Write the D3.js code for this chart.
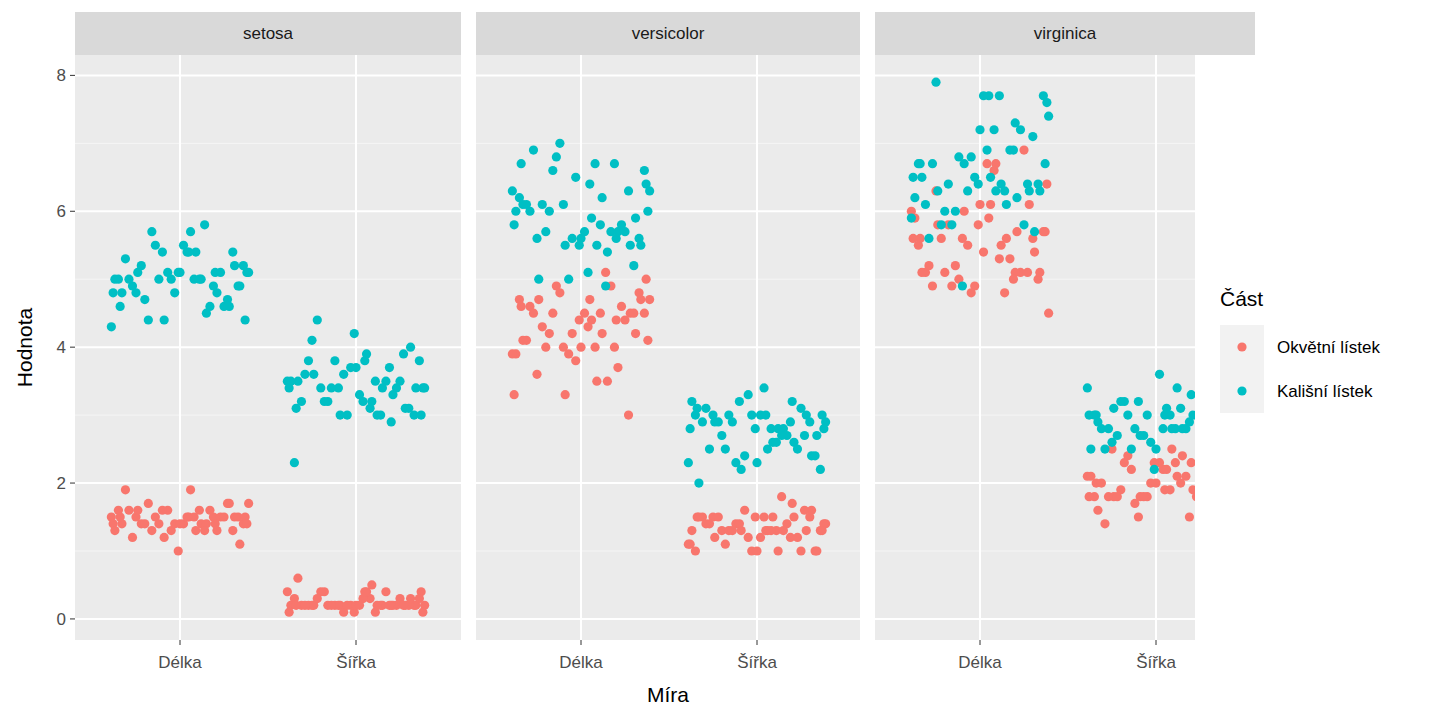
<!DOCTYPE html>
<html><head><meta charset="utf-8">
<script src="https://cdn.jsdelivr.net/npm/d3@7"></script>
<style>body{margin:0;background:#fff;font-family:Arial,"Liberation Sans",sans-serif}</style>
</head><body><div id="chart"></div>
<script>
const SPECIES = ["setosa", "versicolor", "virginica"];
const MEASURES = ["Délka", "Šířka"];
const PARTS = ["Okvětní lístek", "Kališní lístek"];
const COLORS = ["#F8766D", "#00BFC4"];
const Y_TICKS = [0, 2, 4, 6, 8];

// iris values per species: sepal length, sepal width, petal length, petal width
const sepalLength = {
  setosa: [5.1,4.9,4.7,4.6,5.0,5.4,4.6,5.0,4.4,4.9,5.4,4.8,4.8,4.3,5.8,5.7,5.4,5.1,5.7,5.1,5.4,5.1,4.6,5.1,4.8,5.0,5.0,5.2,5.2,4.7,4.8,5.4,5.2,5.5,4.9,5.0,5.5,4.9,4.4,5.1,5.0,4.5,4.4,5.0,5.1,4.8,5.1,4.6,5.3,5.0],
  versicolor: [7.0,6.4,6.9,5.5,6.5,5.7,6.3,4.9,6.6,5.2,5.0,5.9,6.0,6.1,5.6,6.7,5.6,5.8,6.2,5.6,5.9,6.1,6.3,6.1,6.4,6.6,6.8,6.7,6.0,5.7,5.5,5.5,5.8,6.0,5.4,6.0,6.7,6.3,5.6,5.5,5.5,6.1,5.8,5.0,5.6,5.7,5.7,6.2,5.1,5.7],
  virginica: [6.3,5.8,7.1,6.3,6.5,7.6,4.9,7.3,6.7,7.2,6.5,6.4,6.8,5.7,5.8,6.4,6.5,7.7,7.7,6.0,6.9,5.6,7.7,6.3,6.7,7.2,6.2,6.1,6.4,7.2,7.4,7.9,6.4,6.3,6.1,7.7,6.3,6.4,6.0,6.9,6.7,6.9,5.8,6.8,6.7,6.7,6.3,6.5,6.2,5.9]
};
const sepalWidth = {
  setosa: [3.5,3.0,3.2,3.1,3.6,3.9,3.4,3.4,2.9,3.1,3.7,3.4,3.0,3.0,4.0,4.4,3.9,3.5,3.8,3.8,3.4,3.7,3.6,3.3,3.4,3.0,3.4,3.5,3.4,3.2,3.1,3.4,4.1,4.2,3.1,3.2,3.5,3.6,3.0,3.4,3.5,2.3,3.2,3.5,3.8,3.0,3.8,3.2,3.7,3.3],
  versicolor: [3.2,3.2,3.1,2.3,2.8,2.8,3.3,2.4,2.9,2.7,2.0,3.0,2.2,2.9,2.9,3.1,3.0,2.7,2.2,2.5,3.2,2.8,2.5,2.8,2.9,3.0,2.8,3.0,2.9,2.6,2.4,2.4,2.7,2.7,3.0,3.4,3.1,2.3,3.0,2.5,2.6,3.0,2.6,2.3,2.7,3.0,2.9,2.9,2.5,2.8],
  virginica: [3.3,2.7,3.0,2.9,3.0,3.0,2.5,2.9,2.5,3.6,3.2,2.7,3.0,2.5,2.8,3.2,3.0,3.8,2.6,2.2,3.2,2.8,2.8,2.7,3.3,3.2,2.8,3.0,2.8,3.0,2.8,3.8,2.8,2.8,2.6,3.0,3.4,3.1,3.0,3.1,3.1,3.1,2.7,3.2,3.3,3.0,2.5,3.0,3.4,3.0]
};
const petalLength = {
  setosa: [1.4,1.4,1.3,1.5,1.4,1.7,1.4,1.5,1.4,1.5,1.5,1.6,1.4,1.1,1.2,1.5,1.3,1.4,1.7,1.5,1.7,1.5,1.0,1.7,1.9,1.6,1.6,1.5,1.4,1.6,1.6,1.5,1.5,1.4,1.5,1.2,1.3,1.4,1.3,1.5,1.3,1.3,1.3,1.6,1.9,1.4,1.6,1.4,1.5,1.4],
  versicolor: [4.7,4.5,4.9,4.0,4.6,4.5,4.7,3.3,4.6,3.9,3.5,4.2,4.0,4.7,3.6,4.4,4.5,4.1,4.5,3.9,4.8,4.0,4.9,4.7,4.3,4.4,4.8,5.0,4.5,3.5,3.8,3.7,3.9,5.1,4.5,4.5,4.7,4.4,4.1,4.0,4.4,4.6,4.0,3.3,4.2,4.2,4.2,4.3,3.0,4.1],
  virginica: [6.0,5.1,5.9,5.6,5.8,6.6,4.5,6.3,5.8,6.1,5.1,5.3,5.5,5.0,5.1,5.3,5.5,6.7,6.9,5.0,5.7,4.9,6.7,4.9,5.7,6.0,4.8,4.9,5.6,5.8,6.1,6.4,5.6,5.1,5.6,6.1,5.6,5.5,4.8,5.4,5.6,5.1,5.1,5.9,5.7,5.2,5.0,5.2,5.4,5.1]
};
const petalWidth = {
  setosa: [0.2,0.2,0.2,0.2,0.2,0.4,0.3,0.2,0.2,0.1,0.2,0.2,0.1,0.1,0.2,0.4,0.4,0.3,0.3,0.3,0.2,0.4,0.2,0.5,0.2,0.2,0.4,0.2,0.2,0.2,0.2,0.4,0.1,0.2,0.2,0.2,0.2,0.1,0.2,0.2,0.3,0.3,0.2,0.6,0.4,0.3,0.2,0.2,0.2,0.2],
  versicolor: [1.4,1.5,1.5,1.3,1.5,1.3,1.6,1.0,1.3,1.4,1.0,1.5,1.0,1.4,1.3,1.4,1.5,1.0,1.5,1.1,1.8,1.3,1.5,1.2,1.3,1.4,1.4,1.7,1.5,1.0,1.1,1.0,1.2,1.6,1.5,1.6,1.5,1.3,1.3,1.3,1.2,1.4,1.2,1.0,1.3,1.2,1.3,1.3,1.1,1.3],
  virginica: [2.5,1.9,2.1,1.8,2.2,2.1,1.7,1.8,1.8,2.5,2.0,1.9,2.1,2.0,2.4,2.3,1.8,2.2,2.3,1.5,2.3,2.0,2.0,1.8,2.1,1.8,1.8,1.8,2.1,1.6,1.9,2.0,2.2,1.5,1.4,2.3,2.4,1.8,1.8,2.1,2.4,2.3,1.9,2.3,2.5,2.3,1.9,2.0,2.3,1.8]
};

// horizontal jitter offsets (fraction of category spacing), hand-picked
const JITTER = [-0.38,0.12,-0.05,0.31,-0.22,0.27,-0.33,0.05,0.36,-0.14,0.19,-0.29,0.02,0.34,-0.09,0.23,-0.37,0.15,-0.18,0.08,0.39,-0.25,-0.01,0.28,-0.31,0.11,-0.07,0.33,-0.2,0.17,-0.35,0.04,0.25,-0.12,0.37,-0.27,0.09,-0.03,0.21,-0.39,0.14,-0.16,0.3,-0.24,0.06,0.38,-0.1,0.2,-0.34,0.0];

const width = 1440, height = 720;
const panelLeft = [75, 476, 875];
const panelW = [386, 384, 320];
const stripW = [386, 384, 380];
const plotTop = 55, plotBottom = 640;

const svg = d3.select("#chart").append("svg").attr("width", width).attr("height", height);

const y = d3.scaleLinear().domain([-0.31, 8.3]).range([plotBottom, plotTop]);

SPECIES.forEach((sp, i) => {
  const x0 = panelLeft[i];
  const x = d3.scalePoint().domain(MEASURES).range([x0 + 105, x0 + 281]);
  const step = 176;

  // strip
  svg.append("rect").attr("x", x0).attr("y", 12).attr("width", stripW[i]).attr("height", 43).attr("fill", "#D9D9D9");
  svg.append("text").attr("x", x0 + stripW[i] / 2).attr("y", 39).attr("text-anchor", "middle")
    .attr("font-size", 17).attr("fill", "#1A1A1A").text(sp);

  const g = svg.append("g");
  g.append("clipPath").attr("id", "clip" + i).append("rect")
    .attr("x", x0).attr("y", plotTop).attr("width", panelW[i]).attr("height", plotBottom - plotTop);
  g.append("rect").attr("x", x0).attr("y", plotTop).attr("width", panelW[i]).attr("height", plotBottom - plotTop).attr("fill", "#EBEBEB");

  const minor = [1, 3, 5, 7];
  minor.forEach(v => g.append("line").attr("x1", x0).attr("x2", x0 + panelW[i]).attr("y1", y(v)).attr("y2", y(v)).attr("stroke", "#F5F5F5").attr("stroke-width", 1));
  Y_TICKS.forEach(v => g.append("line").attr("x1", x0).attr("x2", x0 + panelW[i]).attr("y1", y(v)).attr("y2", y(v)).attr("stroke", "#fff").attr("stroke-width", 2));
  MEASURES.forEach(m => {
    g.append("line").attr("x1", x(m)).attr("x2", x(m)).attr("y1", plotTop).attr("y2", plotBottom).attr("stroke", "#fff").attr("stroke-width", 2);
    svg.append("line").attr("x1", x(m)).attr("x2", x(m)).attr("y1", plotBottom).attr("y2", plotBottom + 5).attr("stroke", "#333");
    svg.append("text").attr("x", x(m)).attr("y", plotBottom + 28).attr("text-anchor", "middle").attr("font-size", 17).attr("fill", "#4D4D4D").text(m);
  });

  const pts = g.append("g").attr("clip-path", `url(#clip${i})`);
  const groups = [
    { part: 0, m: "Délka", vals: petalLength[sp] },
    { part: 0, m: "Šířka", vals: petalWidth[sp] },
    { part: 1, m: "Délka", vals: sepalLength[sp] },
    { part: 1, m: "Šířka", vals: sepalWidth[sp] }
  ];
  groups.forEach((grp, gi) => {
    const shift = (gi * 13 + i * 7) % JITTER.length;
    pts.selectAll(null).data(grp.vals).enter().append("circle")
      .attr("cx", (d, k) => x(grp.m) + JITTER[(k + shift) % JITTER.length] * step)
      .attr("cy", d => y(d))
      .attr("r", 4.6)
      .attr("fill", COLORS[grp.part]);
  });
});

// y axis
Y_TICKS.forEach(v => {
  svg.append("line").attr("x1", 70).attr("x2", 75).attr("y1", y(v)).attr("y2", y(v)).attr("stroke", "#333");
  svg.append("text").attr("x", 66).attr("y", y(v) + 6).attr("text-anchor", "end").attr("font-size", 17).attr("fill", "#4D4D4D").text(v);
});
svg.append("text").attr("transform", `translate(32,${(plotTop + plotBottom) / 2}) rotate(-90)`)
  .attr("text-anchor", "middle").attr("font-size", 21).attr("fill", "#000").text("Hodnota");
svg.append("text").attr("x", 668).attr("y", 702).attr("text-anchor", "middle").attr("font-size", 21).attr("fill", "#000").text("Míra");

// legend
svg.append("text").attr("x", 1220).attr("y", 306).attr("font-size", 21).attr("fill", "#000").text("Část");
PARTS.forEach((p, k) => {
  const ly = 325 + k * 44;
  svg.append("rect").attr("x", 1220).attr("y", ly).attr("width", 44).attr("height", 44).attr("fill", "#F2F2F2");
  svg.append("circle").attr("cx", 1242).attr("cy", ly + 22).attr("r", 4.6).attr("fill", COLORS[k]);
  svg.append("text").attr("x", 1277).attr("y", ly + 28).attr("font-size", 17).attr("fill", "#000").text(p);
});
</script>
</body></html>
